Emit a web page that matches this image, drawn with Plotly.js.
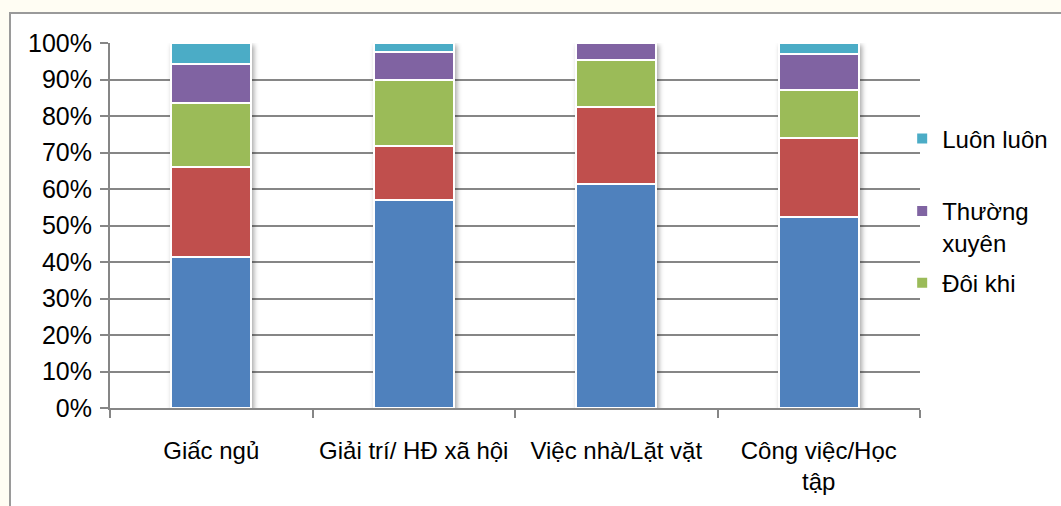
<!DOCTYPE html>
<html>
<head>
<meta charset="utf-8">
<script src="https://cdn.plot.ly/plotly-3.0.1.min.js"></script>
<style>
  html, body { margin: 0; padding: 0; background: #fffdf3; width: 1061px; height: 506px; overflow: hidden; }
  #frame { position: absolute; left: 9px; top: 12px; width: 1052px; height: 494px; border-left: 2px solid #9a9a9a; border-top: 2px solid #9a9a9a; background: #ffffff; box-sizing: border-box; }
  #chart { width: 1050px; height: 492px; }
</style>
</head>
<body>
<div id="frame"><div id="chart"></div></div>
<script>
// Categories (tick labels)
var categories = ['Giấc ngủ', 'Giải trí/ HĐ xã hội', 'Việc nhà/Lặt vặt', 'Công việc/Học<br>tập'];

// Series values (percent)
var khongBaoGio = [41.3, 57.0, 61.3, 52.3];
var hiemKhi     = [24.7, 14.8, 21.3, 21.7];
var doiKhi      = [17.6, 18.2, 12.8, 13.0];
var thuongXuyen = [10.6,  7.4,  4.6,  9.9];
var luonLuon    = [ 5.8,  2.6,  0.0,  3.1];

// Series names
var seriesNames = ['Không bao giờ', 'Hiếm khi', 'Đôi khi', 'Thường<br>xuyên', 'Luôn luôn'];

var colors = ['#4F81BD', '#C0504D', '#9BBB59', '#8064A2', '#4BACC6'];
var seriesValues = [khongBaoGio, hiemKhi, doiKhi, thuongXuyen, luonLuon];
var legendIds = [null, null, 'legend3', 'legend2', 'legend'];

var traces = seriesValues.map(function (vals, i) {
  var t = {
    type: 'bar',
    x: categories,
    y: vals,
    name: seriesNames[i],
    marker: { color: colors[i], line: { color: '#ffffff', width: 2 } },
    hoverinfo: 'x+y+name'
  };
  if (legendIds[i]) { t.legend = legendIds[i]; t.showlegend = true; }
  else { t.showlegend = false; }
  return t;
});

var font = { family: 'Liberation Sans, Arial, sans-serif', size: 24, color: '#000000' };
var legendBase = function (y, valign) {
  return {
    x: 0.978, xanchor: 'left', y: y, yanchor: 'middle',
    bgcolor: 'rgba(0,0,0,0)', borderwidth: 0,
    font: { family: font.family, size: 24, color: '#000000' },
    valign: valign || 'middle', traceorder: 'normal'
  };
};

var layout = {
  width: 1050, height: 492,
  margin: { l: 99, r: 141, t: 29, b: 98, autoexpand: false },
  paper_bgcolor: '#ffffff', plot_bgcolor: '#ffffff',
  font: font,
  barmode: 'stack',
  bargap: 0.605,
  xaxis: {
    type: 'category',
    showgrid: false,
    showline: true, linecolor: '#868686', linewidth: 2,
    ticks: 'outside', tickson: 'boundaries', ticklen: 8, tickcolor: '#868686', tickwidth: 2,
    tickfont: { family: font.family, size: 24, color: '#000000' },
    ticklabelstandoff: 20, tickangle: 0, automargin: false,
    fixedrange: true
  },
  yaxis: {
    range: [0, 100],
    dtick: 10, tick0: 0,
    ticksuffix: '%',
    showgrid: true, gridcolor: '#868686', gridwidth: 2,
    zeroline: false,
    showline: true, linecolor: '#868686', linewidth: 2,
    ticks: 'outside', ticklen: 8, tickcolor: '#868686', tickwidth: 2,
    tickfont: { family: font.family, size: 25, color: '#000000' },
    ticklabelstandoff: 3, automargin: false,
    fixedrange: true
  },
  legend: legendBase(0.737),
  legend2: legendBase(0.496, 'top'),
  legend3: legendBase(0.342),
  showlegend: true
};

Plotly.newPlot('chart', traces, layout, { displayModeBar: false, staticPlot: true }).then(function (gd) {
  // soft drop shadow under the bar stacks, as in the reference
  var svg = gd.querySelector('svg.main-svg');
  var defs = svg.querySelector('defs');
  var ns = 'http://www.w3.org/2000/svg';
  var filter = document.createElementNS(ns, 'filter');
  filter.setAttribute('id', 'barShadow');
  filter.setAttribute('x', '-20%'); filter.setAttribute('y', '-20%');
  filter.setAttribute('width', '140%'); filter.setAttribute('height', '140%');
  var ds = document.createElementNS(ns, 'feDropShadow');
  ds.setAttribute('dx', '2'); ds.setAttribute('dy', '3');
  ds.setAttribute('stdDeviation', '2.5');
  ds.setAttribute('flood-color', '#000'); ds.setAttribute('flood-opacity', '0.35');
  filter.appendChild(ds);
  defs.appendChild(filter);
  var layer = svg.querySelector('.barlayer');
  if (layer) layer.setAttribute('filter', 'url(#barShadow)');
});
</script>
</body>
</html>
